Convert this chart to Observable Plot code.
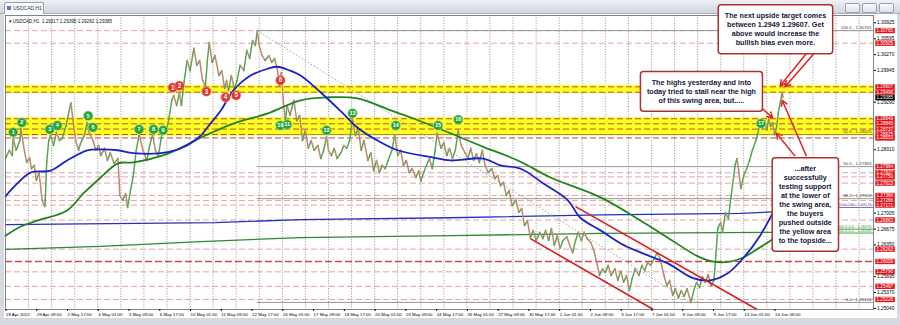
<!DOCTYPE html>
<html><head><meta charset="utf-8">
<script src="https://cdn.jsdelivr.net/npm/d3@7"></script>
<script src="https://cdn.jsdelivr.net/npm/@observablehq/plot@0.6"></script>
<style>
body{margin:0;background:#fff;}
#wrap{position:relative;width:900px;height:325px;background:#d5dae1;overflow:hidden;font-family:"Liberation Sans",Arial,sans-serif;}
#titlebar{position:absolute;left:0;top:0;width:900px;height:14px;background:linear-gradient(#eef1f5,#d0d6de);border-bottom:1px solid #a9b1bd;box-sizing:border-box;}
#tab{position:absolute;left:4px;top:2px;width:40px;height:12px;background:#fbfcfd;border:1px solid #98a1ae;border-bottom:none;border-radius:2px 2px 0 0;box-sizing:border-box;font-size:5px;line-height:11px;color:#333;padding-left:8px;}
#tab i{position:absolute;left:2px;top:3px;width:4px;height:4px;background:#5d7fb0;}
#btns{position:absolute;right:6px;top:3px;display:flex;gap:2px;}
#btns span{display:block;width:13px;height:8px;border:1px solid #98a1ae;border-radius:2px;background:linear-gradient(#fbfcfd,#dde2e9);}
#panel{position:absolute;left:4px;top:14px;width:893px;height:304px;background:#fff;}
#chart{position:absolute;left:0;top:0;}
</style></head>
<body>
<div id="wrap">
  <div id="titlebar"><div id="tab"><i></i>USDCAD,H1</div><div id="btns"><span></span><span></span><span></span></div></div>
  <div id="panel"></div>
  <div id="chart"></div>
</div>
<script>
// ---------- x axis (hourly bar index) ----------
const xTickBars = [0,32,64,96,128,160,192,224,256,288,320,352,384,416,448,480,512,544,576,608,640,672,704,736,768,800];
const xTickLabels = ["28 Apr 2022","29 Apr 09:00","2 May 17:00","4 May 01:00","5 May 09:00","6 May 17:00","10 May 01:00","11 May 09:00","12 May 17:00","16 May 01:00","17 May 09:00","18 May 17:00","20 May 01:00","23 May 09:00","24 May 17:00","26 May 01:00","27 May 09:00","30 May 17:00","1 Jun 01:00","2 Jun 09:00","3 Jun 17:00","7 Jun 01:00","8 Jun 09:00","9 Jun 17:00","13 Jun 01:00","14 Jun 09:00"];
const xDomain = [0, 903];
const gridBars = d3.range(24, 903, 24);

// ---------- y axis (price): tick labels left visible by the level tags ----------
const priceTicks = [1.30925,1.30595,1.30270,1.29945,1.29290,1.28310,1.27005,1.26675,1.26350,1.25695,1.25370,1.25040];
const yDomain = [1.25020, 1.31076];

// ---------- USDCAD H1 price path (bar index, price) ----------
const priceBars = [
0,4,7,8,11,15,16,19,22,25,
27,30,32,35,38,41,43,45,47,50,
53,56,59,63,68,70,73,76,78,82,
85,87,91,94,97,99,103,106,109,113,
117,119,122,125,127,130,133,136,139,143,
147,150,153,156,159,162,164,167,170,173,
175,178,181,183,186,189,192,196,199,202,
205,208,210,212,215,218,222,225,228,230,
232,235,238,241,244,248,251,254,257,260,
262,264,267,270,274,277,280,283,285,287,
289,291,293,296,300,303,306,309,312,315,
318,321,325,328,331,334,336,339,342,345,
349,352,355,358,361,364,367,370,373,377,
380,383,386,389,392,395,398,402,405,408,
411,414,417,420,423,427,430,432,435,438,
441,444,447,449,453,456,459,462,465,468,
471,474,478,481,484,487,490,493,496,499,
502,506,509,512,515,518,521,524,527,531,
534,537,540,543,546,549,552,556,559,562,
565,568,571,574,577,580,584,587,590,593,
596,599,602,605,609,612,615,618,621,624,
627,630,634,637,640,643,646,649,652,655,
659,662,665,668,671,675,678,681,685,688,
691,694,697,700,703,706,709,713,716,719,
722,725,728,731,734,737,739,741,744,746,
749,752,755,759,761,763,765,768,771,774,
777,780,783,785,788,790,792,794,796,798,
800,802,804,806,808,809];
const priceVals = [
1.2813,1.2830,1.2819,1.2856,1.2830,1.2850,1.2875,1.2836,1.2805,1.2815,
1.2792,1.2799,1.2768,1.2784,1.2727,1.2714,1.2809,1.2850,1.2862,1.2840,
1.2867,1.2850,1.2854,1.2881,1.2928,1.2895,1.2850,1.2830,1.2844,1.2860,
1.2887,1.2867,1.2850,1.2830,1.2840,1.2819,1.2834,1.2809,1.2825,1.2803,
1.2813,1.2737,1.2727,1.2741,1.2712,1.2747,1.2778,1.2830,1.2862,1.2830,
1.2809,1.2840,1.2862,1.2830,1.2819,1.2854,1.2877,1.2867,1.2895,1.2933,
1.2943,1.2922,1.2949,1.2922,1.2974,1.3015,1.2994,1.3040,1.3005,1.3015,
1.2974,1.2961,1.3015,1.3052,1.3011,1.3025,1.2984,1.2994,1.2957,1.2974,
1.2953,1.2984,1.2957,1.2974,1.3005,1.2994,1.3036,1.3019,1.3056,1.3046,
1.30765,1.3046,1.3025,1.3015,1.3025,1.3011,1.3019,1.2994,1.2963,1.2990,
1.2933,1.2891,1.2922,1.2902,1.2933,1.2891,1.2902,1.2850,1.2871,1.2834,
1.2850,1.2830,1.2840,1.2813,1.2830,1.2858,1.2830,1.2819,1.2834,1.2813,
1.2825,1.2840,1.2834,1.2850,1.2893,1.2860,1.2875,1.2830,1.2850,1.2809,
1.2825,1.2788,1.2809,1.2784,1.2799,1.2792,1.2809,1.2830,1.2862,1.2819,
1.2830,1.2799,1.2809,1.2784,1.2792,1.2774,1.2788,1.2766,1.2784,1.2799,
1.2813,1.2792,1.2830,1.2865,1.2834,1.2846,1.2819,1.2834,1.2813,1.2830,
1.2871,1.2840,1.2825,1.2813,1.2834,1.2809,1.2823,1.2805,1.2830,1.2799,
1.2784,1.2792,1.2772,1.2778,1.2757,1.2764,1.2737,1.2747,1.2716,1.2727,
1.2702,1.2710,1.2675,1.2685,1.2650,1.2665,1.2644,1.2661,1.2648,1.2665,
1.2644,1.2669,1.2634,1.2654,1.2628,1.2644,1.2652,1.2634,1.2619,1.2644,
1.2661,1.2644,1.2661,1.2648,1.2640,1.2624,1.2599,1.2572,1.2586,1.2578,
1.2593,1.2572,1.2586,1.2562,1.2582,1.2558,1.2572,1.2541,1.2566,1.2586,
1.2572,1.2593,1.2582,1.2599,1.2593,1.2607,1.2619,1.2607,1.2572,1.2551,
1.2562,1.2531,1.2545,1.2525,1.2541,1.2529,1.2545,1.25166,1.2541,1.2558,
1.2547,1.2570,1.2558,1.2574,1.2551,1.2562,1.2613,1.2669,1.2681,1.2661,
1.2702,1.2689,1.2737,1.2799,1.2813,1.2784,1.2751,1.2778,1.2792,1.2809,
1.2830,1.2846,1.2867,1.2887,1.2875,1.2891,1.2871,1.2895,1.2879,1.2887,
1.2862,1.2875,1.2908,1.2928,1.2949,1.29385];
const lastPrice = 1.29385;
const infoText = "\u25BE USDCAD,H1  1.29317 1.29395 1.29282 1.29385";

// ---------- moving averages ----------
const ma100Bars = [0,10,26,47,64,85,99,117,133,169,189,203,210,224,237,255,273,283,296,307,328,348,366,387,408,445,463,497,515,536,560,585,598,619,640,661,689,716,733,751,768,785,802];
const ma100Vals = [1.2735,1.2757,1.2784,1.2788,1.2809,1.2830,1.2832,1.2830,1.2824,1.2826,1.2840,1.2860,1.2877,1.2912,1.2953,1.2984,1.2998,1.3002,1.2994,1.2984,1.2949,1.2912,1.2877,1.2850,1.2830,1.2815,1.2809,1.2813,1.2799,1.2792,1.2761,1.2727,1.2691,1.2665,1.2638,1.2619,1.2597,1.2566,1.2562,1.2576,1.2609,1.2654,1.2716];
const ma200Bars = [0,16,33,64,81,99,117,133,169,203,237,273,307,335,366,401,421,463,497,533,567,619,661,689,723,744,765,785,802];
const ma200Vals = [1.2654,1.2673,1.2685,1.2706,1.2741,1.2774,1.2803,1.2805,1.2823,1.2856,1.2885,1.2906,1.2933,1.2939,1.2937,1.2912,1.2898,1.2865,1.2837,1.2809,1.2774,1.2733,1.2685,1.2650,1.2609,1.2599,1.2607,1.2630,1.2652];
const dma100Bars = [0,218,307,463,619,765,809];
const dma100Vals = [1.2677,1.2681,1.2687,1.2691,1.2697,1.2700,1.2704];
const dma200Bars = [0,99,203,307,463,619,809];
const dma200Vals = [1.2626,1.2632,1.2642,1.2650,1.2654,1.2659,1.2661];

// ---------- horizontal levels ----------
const levelPrices = [1.30765,1.30505,1.29607,1.29496,1.28949,1.28845,1.28737,1.28625,1.28553,1.27964,1.27837,1.27750,1.27623,1.27368,1.27266,1.27171,1.26863,1.26263,1.26009,1.25796,1.25497,1.25226];
const levelKinds  = ["minor","minor","band","band","band","band","band","band","band","label","minor","minor","minor","minor","minor","minor","minor","minor","major","minor","minor","minor"];
const bandTops    = [1.29630, 1.28970];
const bandBottoms = [1.29470, 1.28590];

// ---------- fibonacci retracement ----------
const fibNames  = ["100.0","61.8","50.0","38.2","0.0"];
const fibPrices = [1.30765,1.28625,1.27963,1.27303,1.25166];
const fibFromBar = 262;
const swingBars = [262, 713];
const swingPrices = [1.30765, 1.25166];

// ---------- other right-side lines ----------
const extraNames  = ["100.0-200 - 1.27121","200.0-0.0 - 1.26676","200.0-0.0 - 1.26595"];
const extraPrices = [1.27121, 1.26676, 1.26595];
const extraKinds  = ["purple","green","green"];
const extraFromBar = 800;

// ---------- down channel ----------
const channelFromBars = [593, 546];
const channelFromPrices = [1.2714, 1.2648];
const channelToBars = [782, 674];
const channelToPrices = [1.2502, 1.2502];

// ---------- numbered touches ----------
const redNums = [1,2,3,4,5,6];
const redBars = [174,181,209,229,240,286];
const redPrices = [1.2959,1.2963,1.2951,1.2939,1.2943,1.2974];
const greenNums = [1,2,3,4,5,6,7,8,9,10,11,12,13,14,15,16,17];
const greenBars = [8,17,46,54,86,91,139,154,164,286,293,334,361,406,450,471,786];
const greenPrices = [1.2867,1.2887,1.2873,1.2881,1.2901,1.2877,1.2873,1.2873,1.2871,1.2881,1.2883,1.2871,1.2906,1.2881,1.2881,1.2893,1.2885];

// ---------- notes & arrows ----------
const noteTexts = [
 "The next upside target comes\nbetween 1.2949 1.29607. Get\nabove would increase the\nbullish bias even more.",
 "The highs yesterday and into\ntoday tried to stall near the high\nof this swing area, but.....",
 "...after\nsuccessfully\ntesting support\nat the lower of\nthe swing area,\nthe buyers\npushed outside\nthe yellow area\nto the topside..."];
const noteBars = [801, 724, 832];
const notePrices = [1.3080, 1.2952, 1.2719];
const arrowFromBars = [841, 833, 784, 833, 821];
const arrowFromPrices = [1.3029, 1.3029, 1.2922, 1.2819, 1.2819];
const arrowToBars = [811, 806, 798, 808, 802];
const arrowToPrices = [1.2961, 1.2963, 1.2897, 1.2933, 1.2865];

// ---------- build tables ----------
const segs = [];
for (let i = 1; i < priceBars.length; i++) {
  segs.push({x1: priceBars[i-1], y1: priceVals[i-1], x2: priceBars[i], y2: priceVals[i], up: priceVals[i] >= priceVals[i-1]});
}
const zip = (xs, ys) => xs.map((x, i) => ({x, y: ys[i]}));
const levels = levelPrices.map((p, i) => ({p, kind: levelKinds[i]}));
const bands = bandTops.map((t, i) => ({t, b: bandBottoms[i]}));
const fibs = fibPrices.map((p, i) => ({p, name: fibNames[i] + " - " + p.toFixed(5)}));
const extras = extraPrices.map((p, i) => ({p, name: extraNames[i], kind: extraKinds[i]}));
const channels = channelFromBars.map((b, i) => ({x1: b, y1: channelFromPrices[i], x2: channelToBars[i], y2: channelToPrices[i]}));
const reds = redNums.map((n, i) => ({n, x: redBars[i], y: redPrices[i]}));
const greens = greenNums.map((n, i) => ({n, x: greenBars[i], y: greenPrices[i]}));
const notes = noteTexts.map((t, i) => ({t, x: noteBars[i], y: notePrices[i]}));
const arrows = arrowFromBars.map((b, i) => ({x1: b, y1: arrowFromPrices[i], x2: arrowToBars[i], y2: arrowToPrices[i]}));

const levelStroke = {minor: "#e39a9a", band: "#c0392b", major: "#d24a4a", label: "none"};
const levelWidth = {minor: 0.9, band: 0.9, major: 1.6, label: 0};
const extraColor = {purple: "#6b5bc4", green: "#3c9a3c"};

const chart = Plot.plot({
  width: 900, height: 325,
  marginLeft: 5, marginRight: 27, marginTop: 15, marginBottom: 16,
  x: {domain: xDomain},
  y: {domain: yDomain},
  style: {background: "transparent", fontFamily: "'Liberation Sans', Arial, sans-serif", fontSize: "4.8px", color: "#000", overflow: "visible"},
  marks: [
    Plot.ruleX(gridBars, {stroke: "#7a7a7a", strokeWidth: 0.8, strokeDasharray: "1,1.6"}),
    Plot.rect(bands, {y1: "b", y2: "t", fill: "#ffff22"}),
    ...["minor","band","major"].map(k => Plot.ruleY(levels.filter(d => d.kind === k), {y: "p", stroke: levelStroke[k], strokeWidth: levelWidth[k], strokeDasharray: k === "major" ? "7,3" : "6,3"})),
    Plot.ruleY(fibs, {y: "p", x1: fibFromBar, x2: xDomain[1], stroke: "#8c8c8c", strokeWidth: 0.9}),
    Plot.ruleY(extras, {y: "p", x1: extraFromBar, x2: xDomain[1], stroke: d => extraColor[d.kind], strokeWidth: 0.9}),
    Plot.line(zip(dma200Bars, dma200Vals), {x: "x", y: "y", stroke: "#2f8a2f", strokeWidth: 1.3}),
    Plot.line(zip(dma100Bars, dma100Vals), {x: "x", y: "y", stroke: "#2330c2", strokeWidth: 1.3}),
    Plot.link([{x1: swingBars[0], y1: swingPrices[0], x2: swingBars[1], y2: swingPrices[1]}], {x1: "x1", y1: "y1", x2: "x2", y2: "y2", stroke: "#b09a9a", strokeWidth: 1, strokeDasharray: "1.5,2"}),
    Plot.link(segs, {x1: "x1", y1: "y1", x2: "x2", y2: "y2", stroke: d => d.up ? "#55a655" : "#c0866f", strokeWidth: 1.5, strokeLinecap: "round"}),
    Plot.line(zip(ma200Bars, ma200Vals), {x: "x", y: "y", stroke: "#1f861f", strokeWidth: 1.8, curve: "catmull-rom"}),
    Plot.line(zip(ma100Bars, ma100Vals), {x: "x", y: "y", stroke: "#1c22c8", strokeWidth: 1.8, curve: "catmull-rom"}),
    Plot.link(channels, {x1: "x1", y1: "y1", x2: "x2", y2: "y2", stroke: "#d81e1e", strokeWidth: 1.6}),
    Plot.dot(reds, {x: "x", y: "y", r: 4.8, fill: "#e3342c", stroke: "#f7b3ad", strokeWidth: 0.6}),
    Plot.text(reds, {x: "x", y: "y", text: "n", fill: "white", fontWeight: "bold", fontSize: 6.3}),
    Plot.dot(greens, {x: "x", y: "y", r: 4.8, fill: "#27a43a", stroke: "#b9e8bf", strokeWidth: 0.6}),
    Plot.text(greens, {x: "x", y: "y", text: "n", fill: "white", fontWeight: "bold", fontSize: 5.6}),
    Plot.text(fibs, {y: "p", text: "name", frameAnchor: "right", textAnchor: "end", dx: -2, dy: -2.6, fill: "#444", fontSize: 4.4}),
    Plot.text(extras, {y: "p", text: "name", frameAnchor: "right", textAnchor: "end", dx: -2, dy: -2.4, fill: d => extraColor[d.kind], fontSize: 3.9}),
    Plot.text([infoText], {frameAnchor: "top-left", dx: 3, dy: 4, fontSize: 4.6, fill: "#111"}),
    Plot.frame({stroke: "#666", strokeWidth: 0.8}),
    Plot.axisY({anchor: "right", ticks: priceTicks, tickFormat: d => d.toFixed(5), tickSize: 2, tickPadding: 1.5, fontSize: 4.8}),
    Plot.axisX({ticks: xTickBars, tickFormat: d => xTickLabels[xTickBars.indexOf(d)], textAnchor: "start", dx: 0.5, tickSize: 2, tickPadding: 1, fontSize: 4.4}),
    Plot.text(levels, {y: "p", text: d => d.p.toFixed(5), frameAnchor: "right", textAnchor: "start", dx: 3, fill: "white", fontSize: 4.6, ariaDescription: "redlabels"}),
    Plot.text([lastPrice], {y: d => d, text: d => d.toFixed(5), frameAnchor: "right", textAnchor: "start", dx: 3, fill: "white", fontSize: 4.6, ariaDescription: "lastlabel"}),
    Plot.arrow(arrows, {x1: "x1", y1: "y1", x2: "x2", y2: "y2", stroke: "#e12424", strokeWidth: 1.5, headLength: 6}),
    Plot.text(notes, {x: "x", y: "y", text: "t", fill: "#15153a", fontWeight: "bold", fontSize: 7.2, lineHeight: 1.24, ariaDescription: "notes"})
  ]
});
document.getElementById("chart").appendChild(chart);

function boxUnder(desc, fill, stroke, sw, px, py, rx) {
  const g = chart.querySelector(`g[aria-description="${desc}"]`);
  if (!g) return;
  for (const t of Array.from(g.querySelectorAll("text"))) {
    const b = t.getBBox();
    const r = document.createElementNS("http://www.w3.org/2000/svg", "rect");
    r.setAttribute("x", b.x - px); r.setAttribute("y", b.y - py);
    r.setAttribute("width", b.width + 2 * px); r.setAttribute("height", b.height + 2 * py);
    r.setAttribute("fill", fill);
    r.setAttribute("stroke", stroke || "none");
    if (sw) r.setAttribute("stroke-width", sw);
    if (rx) r.setAttribute("rx", rx);
    const tr = t.getAttribute("transform"); if (tr) r.setAttribute("transform", tr);
    t.parentNode.insertBefore(r, t);
  }
}
boxUnder("redlabels", "#e3141b", null, 0, 1.2, 0.2, 0);
boxUnder("lastlabel", "#000000", null, 0, 1.2, 0.2, 0);
boxUnder("notes", "#ffffff", "#b0302c", 1.5, 6.5, 6.5, 3);
</script>
</body></html>
